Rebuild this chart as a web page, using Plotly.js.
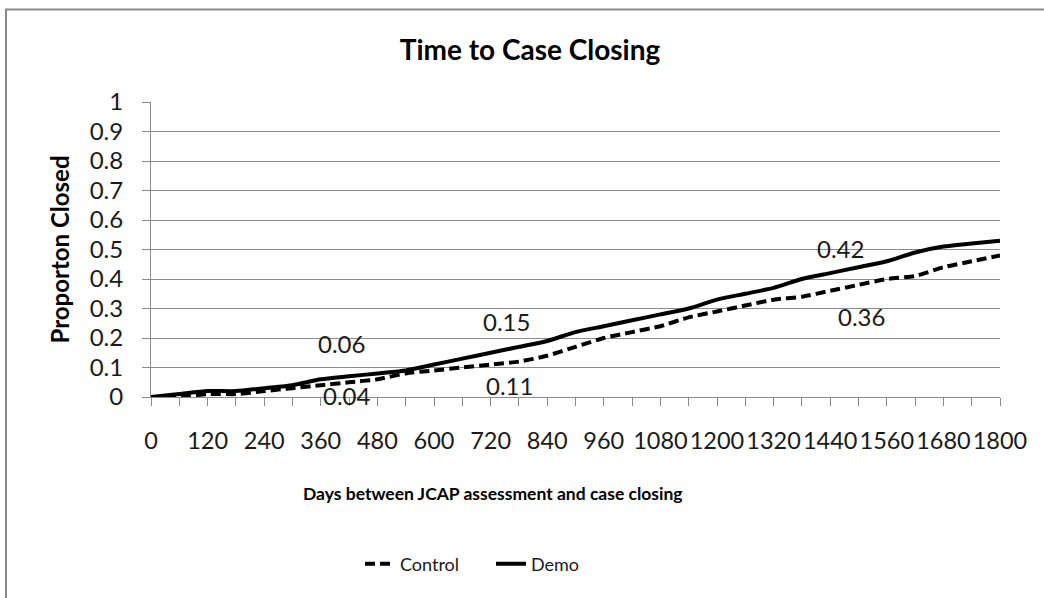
<!DOCTYPE html>
<html>
<head>
<meta charset="utf-8">
<script src="https://cdn.plot.ly/plotly-3.0.1.min.js"></script>
<style>
  html, body { margin: 0; padding: 0; background: #ffffff; }
  #chart { width: 1044px; height: 598px; }
</style>
</head>
<body>
<div id="chart"></div>
<script>
// ---- Data ----
const days = [0, 60, 120, 180, 240, 300, 360, 420, 480, 540, 600, 660, 720, 780, 840, 900,
              960, 1020, 1080, 1140, 1200, 1260, 1320, 1380, 1440, 1500, 1560, 1620, 1680, 1740, 1800];
const control = [0, 0.00, 0.01, 0.01, 0.02, 0.03, 0.04, 0.05, 0.06, 0.08, 0.09, 0.10, 0.11, 0.12, 0.14, 0.17,
                 0.20, 0.22, 0.24, 0.27, 0.29, 0.31, 0.33, 0.34, 0.36, 0.38, 0.40, 0.41, 0.44, 0.46, 0.48];
const demo = [0, 0.01, 0.02, 0.02, 0.03, 0.04, 0.06, 0.07, 0.08, 0.09, 0.11, 0.13, 0.15, 0.17, 0.19, 0.22,
              0.24, 0.26, 0.28, 0.30, 0.33, 0.35, 0.37, 0.40, 0.42, 0.44, 0.46, 0.49, 0.51, 0.52, 0.53];
const xTickLabels = ["0", "120", "240", "360", "480", "600", "720", "840", "960", "1080",
                     "1200", "1320", "1440", "1560", "1680", "1800"];
const labelDays = [360, 720, 1440];
const seriesNames = ["Control", "Demo"];
const chartTitle = "Time to Case Closing";
const xTitle = "Days between JCAP assessment and case closing";
const yTitle = "Proporton Closed";

// ---- Styling ----
const FONT = "Lato, 'Open Sans', sans-serif";
const GRAY = "#8c8c8c";
const TXT = "#1a1a1a";

const traces = [
  {
    x: days, y: control, name: seriesNames[0], type: "scatter", mode: "lines",
    line: { color: "#000000", width: 4, dash: "10px,5px", shape: "spline", smoothing: 0.6 },
    hoverinfo: "skip"
  },
  {
    x: days, y: demo, name: seriesNames[1], type: "scatter", mode: "lines",
    line: { color: "#000000", width: 4, shape: "spline", smoothing: 0.6 },
    hoverinfo: "skip"
  }
];

// data labels anchored at the data points, offset as in the reference
const demoShift = [[21, 36], [16, 31], [10, 25]];
const ctrlShift = [[26, -10], [19, -21], [31, -26]];
const annotations = [];
labelDays.forEach((d, k) => {
  const i = days.indexOf(d);
  annotations.push({
    x: d, y: demo[i], xref: "x", yref: "y", text: demo[i].toFixed(2), showarrow: false,
    xshift: demoShift[k][0], yshift: demoShift[k][1], xanchor: "center", yanchor: "middle",
    font: { family: FONT, size: 24, color: TXT }
  });
  annotations.push({
    x: d, y: control[i], xref: "x", yref: "y", text: control[i].toFixed(2), showarrow: false,
    xshift: ctrlShift[k][0], yshift: ctrlShift[k][1], xanchor: "center", yanchor: "middle",
    font: { family: FONT, size: 24, color: TXT }
  });
});
// axis titles
annotations.push({
  text: xTitle, xref: "paper", yref: "paper", x: (493 - 151) / 849, y: (397 - 493) / 295,
  xanchor: "center", yanchor: "middle", showarrow: false,
  font: { family: FONT, size: 17.5, color: "#000000", weight: "bold" }
});
annotations.push({
  text: yTitle, xref: "paper", yref: "paper", x: (59 - 151) / 849, y: 0.5, textangle: -90,
  xanchor: "center", yanchor: "middle", showarrow: false,
  font: { family: FONT, size: 24, color: "#000000", weight: "bold" }
});

const layout = {
  width: 1044, height: 598,
  margin: { l: 151, r: 44, t: 102, b: 201, pad: 0 },
  paper_bgcolor: "#ffffff", plot_bgcolor: "#ffffff",
  font: { family: FONT, color: TXT },
  title: {
    text: chartTitle, x: 530 / 1044, xanchor: "center", xref: "container",
    y: 1 - 50 / 598, yanchor: "middle", yref: "container",
    font: { family: FONT, size: 28, color: "#000000", weight: "bold" }
  },
  xaxis: {
    range: [0, 1800], tickvals: days.filter((d, i) => i % 2 === 0), ticktext: xTickLabels,
    tickangle: 0,
    ticks: "outside", ticklen: 8, tickcolor: GRAY, tickwidth: 1,
    minor: { dtick: 60, tick0: 0, ticks: "outside", ticklen: 8, tickcolor: GRAY, tickwidth: 1, showgrid: false },
    showline: true, linecolor: GRAY, linewidth: 1, showgrid: false, zeroline: false,
    tickfont: { family: FONT, size: 23.5, color: TXT }, ticklabelstandoff: 15,
    fixedrange: true
  },
  yaxis: {
    range: [0, 1], dtick: 0.1, tick0: 0,
    ticks: "outside", ticklen: 8, tickcolor: GRAY, tickwidth: 1,
    showline: true, linecolor: GRAY, linewidth: 1,
    showgrid: true, gridcolor: GRAY, gridwidth: 1, zeroline: false,
    tickfont: { family: FONT, size: 24, color: TXT }, ticklabelstandoff: 14,
    fixedrange: true
  },
  legend: {
    orientation: "h", x: (360 - 151) / 849, xanchor: "left", y: (397 - 564) / 295, yanchor: "middle",
    font: { family: FONT, size: 18, color: TXT }, bgcolor: "rgba(0,0,0,0)", itemwidth: 30,
    entrywidth: 86, entrywidthmode: "pixels", traceorder: "normal"
  },
  shapes: [
    { type: "rect", xref: "paper", yref: "paper",
      x0: (6 - 151) / 849, x1: (1060 - 151) / 849, y0: (397 - 620) / 295, y1: (397 - 9.5) / 295,
      line: { color: "#8a8a8a", width: 2 }, fillcolor: "rgba(0,0,0,0)", layer: "below" }
  ],
  annotations: annotations,
  showlegend: true
};

Plotly.newPlot("chart", traces, layout, { displayModeBar: false, staticPlot: true });
</script>
</body>
</html>
